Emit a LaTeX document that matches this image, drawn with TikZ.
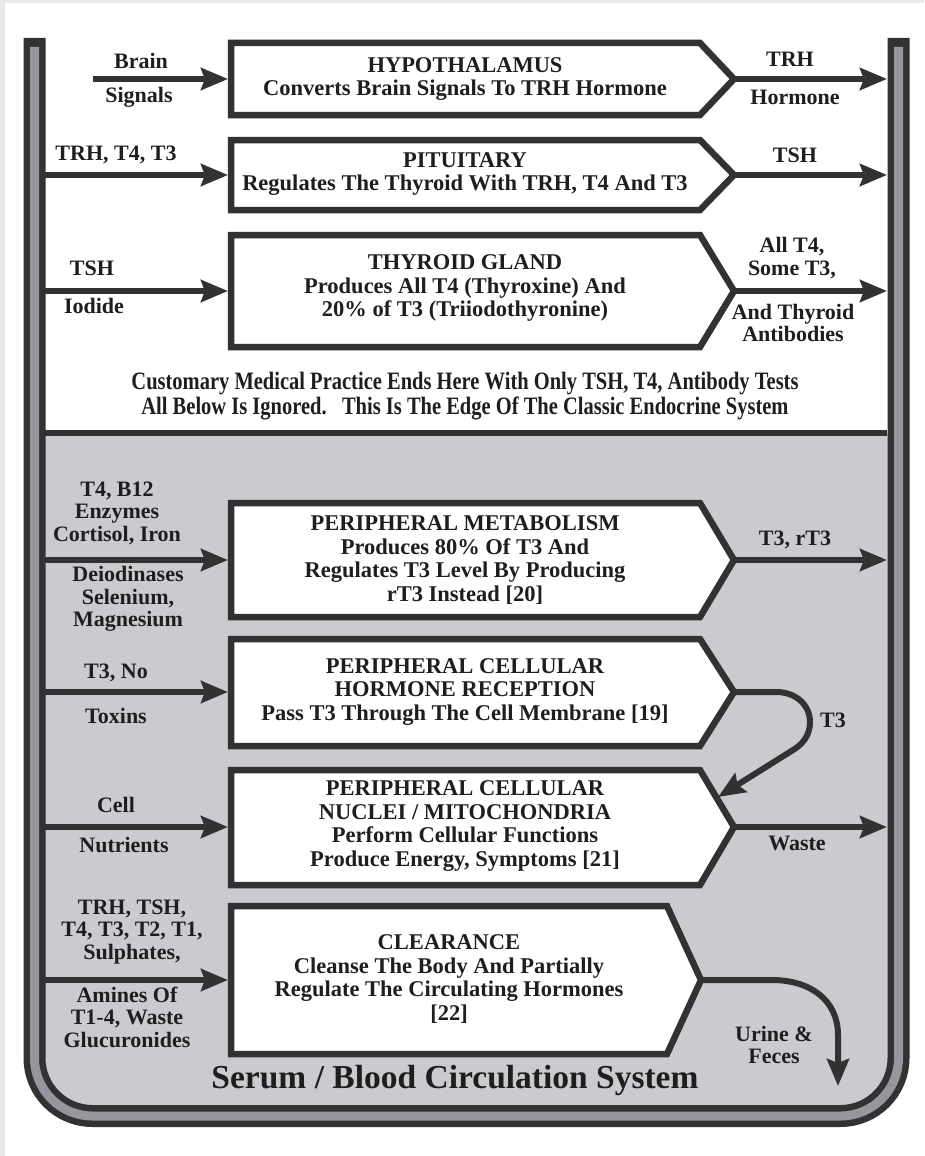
\documentclass[tikz,border=0pt]{standalone}
\usepackage{fontspec}
\setmainfont{Liberation Serif}
\newfontfamily\narrowserif[FakeStretch=0.82]{Liberation Serif}
\usepackage{xcolor}
\usepackage{tikz}
\usetikzlibrary{arrows.meta}

\definecolor{ink}{RGB}{50,50,50}
\definecolor{inktext}{RGB}{30,30,30}
\definecolor{serum}{RGB}{202,203,206}
\definecolor{tube}{RGB}{150,151,156}
\definecolor{page}{RGB}{231,233,236}

\begin{document}
\begin{tikzpicture}[x=1pt,y=-1pt]
	\tikzstyle{stagebox}=[draw=ink, line width=6.5pt, fill=white]
	\tikzstyle{stagetext}=[text=inktext, font=\fontsize{22.5}{23.5}\selectfont\bfseries, align=center]
	\tikzstyle{flowtext}=[text=inktext, font=\fontsize{22}{22.5}\selectfont\bfseries, align=center]
	\tikzstyle{notetext}=[text=inktext, font=\narrowserif\bfseries\fontsize{25}{25}\selectfont, align=center]
	\tikzset{flow/.style = {draw=ink, line width=6pt, -{Stealth[length=27pt,width=22pt,inset=4pt]}}}

	% page
	\useasboundingbox (0,0) rectangle (924,1156);
	\fill[page] (0,0) rectangle (924,1156);
	\fill[white] (5,3) rectangle (924,1156);

	% serum area + circulation tube
	\fill[serum] (34,433) rectangle (899,1000);
	\fill[serum, rounded corners=58pt] (34,900) rectangle (899,1116);
	\draw[ink, line width=22pt, rounded corners=58pt] (34.5,38) -- (34.5,1116) -- (898.5,1116) -- (898.5,38);
	\draw[tube, line width=9pt, rounded corners=58pt] (34.5,47) -- (34.5,1116) -- (898.5,1116) -- (898.5,47);
	\draw[ink, line width=6pt] (45,433) -- (887,433);

	% points on the tube
	\coordinate (brainSrc) at (93,79);
	\coordinate (pitSrc) at (45,175);
	\coordinate (thySrc) at (45,291);
	\coordinate (metSrc) at (45,560);
	\coordinate (recSrc) at (45,692);
	\coordinate (nucSrc) at (45,827);
	\coordinate (clrSrc) at (45,980);
	\coordinate (hypDst) at (887,79);
	\coordinate (pitDst) at (887,175);
	\coordinate (thyDst) at (887,291);
	\coordinate (metDst) at (887,560);
	\coordinate (nucDst) at (887,827);
	\coordinate (urineEnd) at (838,1086);

	% hypothalamus
	\draw[stagebox] (231,43) -- (700,43) -- (734,79) coordinate (hypOut) -- (700,115) -- (231,115) -- cycle;
	\coordinate (hypIn) at (228,79);
	\node[stagetext] (hyp) at (465,79) {HYPOTHALAMUS\\Converts Brain Signals To TRH Hormone};

	% pituitary
	\draw[stagebox] (231,140) -- (700,140) -- (734,175) coordinate (pitOut) -- (700,210) -- (231,210) -- cycle;
	\coordinate (pitIn) at (228,175);
	\node[stagetext] (pit) at (465,174) {PITUITARY\\Regulates The Thyroid With TRH, T4 And T3};

	% thyroid gland
	\draw[stagebox] (231,235) -- (700,235) -- (734,291) coordinate (thyOut) -- (700,347) -- (231,347) -- cycle;
	\coordinate (thyIn) at (228,291);
	\node[stagetext] (thy) at (465,288) {THYROID GLAND\\Produces All T4 (Thyroxine) And\\20\% of T3 (Triiodothyronine)};

	% edge of the classic system
	\node[notetext] (note) at (465,396) {Customary Medical Practice Ends Here With Only TSH, T4, Antibody Tests\\All Below Is Ignored.\ \ \ This Is The Edge Of The Classic Endocrine System};

	% peripheral metabolism
	\draw[stagebox] (231,503) -- (700,503) -- (734,560) coordinate (metOut) -- (700,617) -- (231,617) -- cycle;
	\coordinate (metIn) at (228,560);
	\node[stagetext] (met) at (465,560) {PERIPHERAL METABOLISM\\Produces 80\% Of T3 And\\Regulates T3 Level By Producing\\rT3 Instead [20]};

	% hormone reception
	\draw[stagebox] (231,639) -- (700,639) -- (734,692) coordinate (recOut) -- (700,746) -- (231,746) -- cycle;
	\coordinate (recIn) at (228,692);
	\node[stagetext] (rec) at (465,692) {PERIPHERAL CELLULAR\\HORMONE RECEPTION\\Pass T3 Through The Cell Membrane [19]};

	% nuclei / mitochondria
	\draw[stagebox] (231,770) -- (700,770) -- (734,827) coordinate (nucOut) -- (700,885) -- (231,885) -- cycle;
	\coordinate (nucIn) at (228,827);
	\coordinate (nucSide) at (718,797);
	\node[stagetext] (nuc) at (465,826) {PERIPHERAL CELLULAR\\NUCLEI / MITOCHONDRIA\\Perform Cellular Functions\\Produce Energy, Symptoms [21]};

	% clearance
	\draw[stagebox] (231,906) -- (667,906) -- (701,980) coordinate (clrOut) -- (667,1054) -- (231,1054) -- cycle;
	\coordinate (clrIn) at (228,980);
	\node[stagetext] (clr) at (449,979) {CLEARANCE\\Cleanse The Body And Partially\\Regulate The Circulating Hormones\\[0pt][22]};

	% flows in
	\draw[flow] (brainSrc) -- (hypIn);
	\draw[flow] (pitSrc) -- (pitIn);
	\draw[flow] (thySrc) -- (thyIn);
	\draw[flow] (metSrc) -- (metIn);
	\draw[flow] (recSrc) -- (recIn);
	\draw[flow] (nucSrc) -- (nucIn);
	\draw[flow] (clrSrc) -- (clrIn);

	% flows out
	\draw[flow] (hypOut) -- (hypDst);
	\draw[flow] (pitOut) -- (pitDst);
	\draw[flow] (thyOut) -- (thyDst);
	\draw[flow] (metOut) -- (metDst);
	\draw[flow] (nucOut) -- (nucDst);
	\draw[flow] (recOut) -- (776,692) .. controls (797,692) and (810,706) .. (810,722) .. controls (810,735) and (803,744) .. (793,750) -- (nucSide);
	\draw[flow] (clrOut) -- (772,980) .. controls (810,980) and (838,1000) .. (838,1035) -- (urineEnd);

	% labels in
	\node[flowtext] (lBrain) at (141,61) {Brain};
	\node[flowtext] (lSignals) at (139,97) {Signals};
	\node[flowtext] (lPit) at (116,155) {TRH, T4, T3};
	\node[flowtext] (lTsh) at (92,268) {TSH};
	\node[flowtext] (lIodide) at (94,306) {Iodide};
	\node[flowtext] (lMetA) at (117,513) {T4, B12\\Enzymes\\Cortisol, Iron};
	\node[flowtext] (lMetB) at (128,599) {Deiodinases\\Selenium,\\Magnesium};
	\node[flowtext] (lRecA) at (116,673) {T3, No};
	\node[flowtext] (lRecB) at (116,716) {Toxins};
	\node[flowtext] (lNucA) at (116,805) {Cell};
	\node[flowtext] (lNucB) at (124,845) {Nutrients};
	\node[flowtext] (lClrA) at (132,932) {TRH, TSH,\\T4, T3, T2, T1,\\Sulphates,};
	\node[flowtext] (lClrB) at (127,1017) {Amines Of\\T1-4, Waste\\Glucuronides};

	% labels out
	\node[flowtext] (rTrh) at (790,59) {TRH};
	\node[flowtext] (rHormone) at (795,97) {Hormone};
	\node[flowtext] (rTsh) at (795,155) {TSH};
	\node[flowtext] (rThyA) at (792,258) {All T4,\\Some T3,};
	\node[flowtext] (rThyB) at (793,323) {And Thyroid\\Antibodies};
	\node[flowtext] (rMet) at (795,540) {T3, rT3};
	\node[flowtext] (rT3) at (833,720) {T3};
	\node[flowtext] (rWaste) at (797,843) {Waste};
	\node[flowtext] (rUrine) at (774,1045) {Urine \&\\Feces};

	% system
	\node[text=inktext, font=\fontsize{33.5}{36}\selectfont\bfseries] (serumLabel) at (455,1080) {Serum / Blood Circulation System};
\end{tikzpicture}
\end{document}
